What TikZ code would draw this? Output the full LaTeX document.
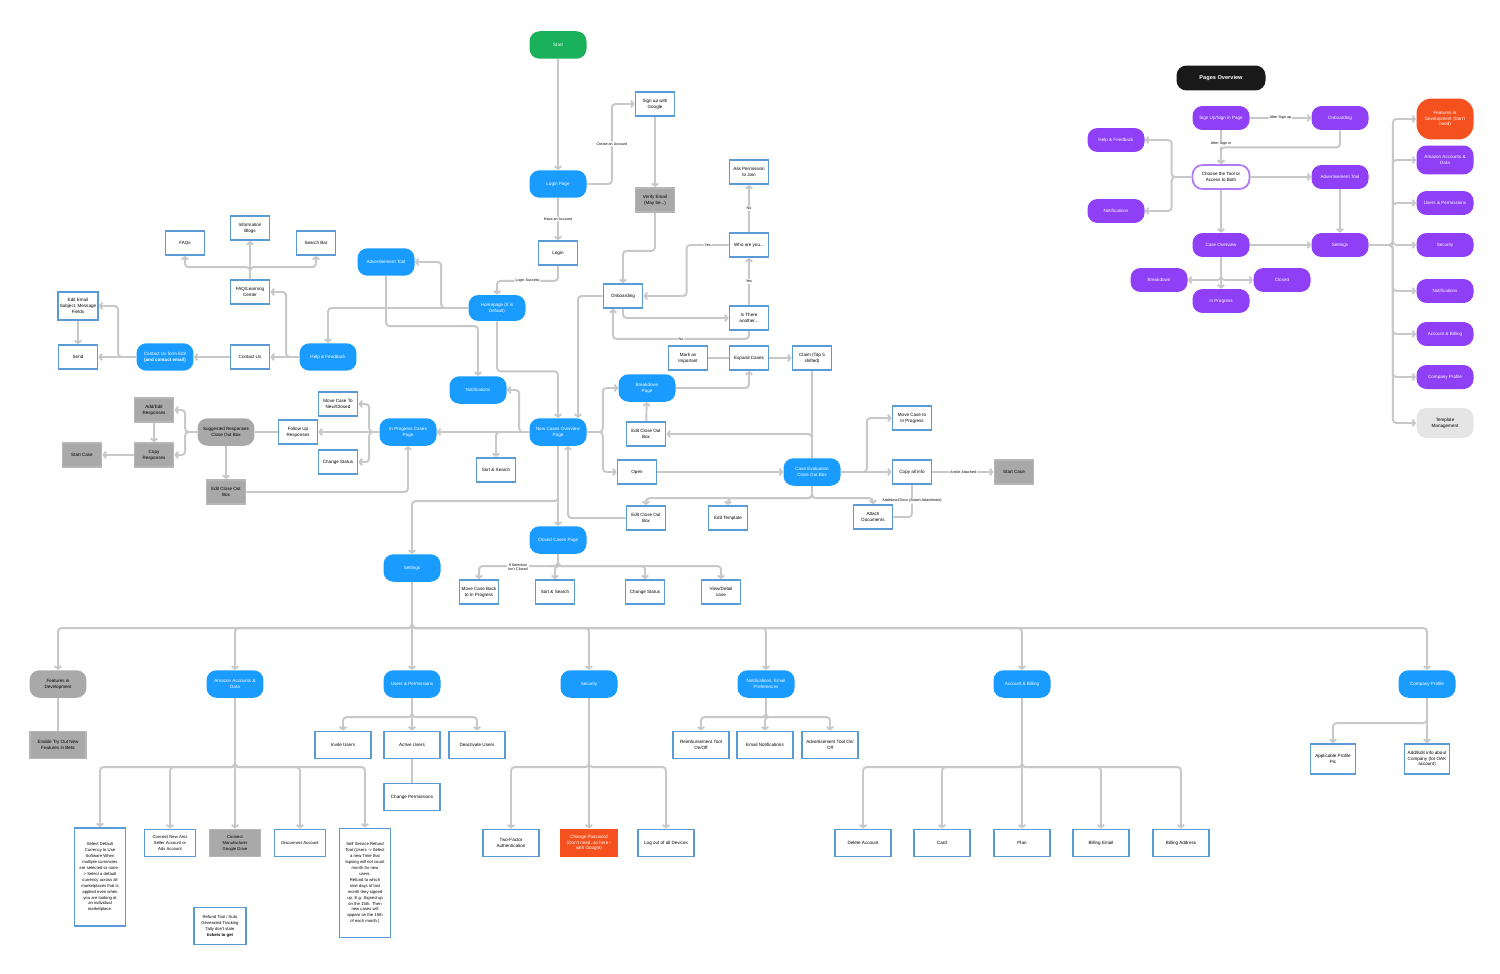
\documentclass[tikz,border=0pt]{standalone}
\usepackage{fontspec}
\setmainfont{Liberation Sans}
\usetikzlibrary{arrows.meta}
\definecolor{flowblue}{HTML}{1A9CFF}
\definecolor{boxblue}{HTML}{5B9BD5}
\definecolor{linegrey}{HTML}{C8C8C8}
\definecolor{greyfill}{HTML}{A9A9A9}
\definecolor{flowpurple}{HTML}{8F3FF5}
\definecolor{floworange}{HTML}{F4511E}
\definecolor{flowgreen}{HTML}{19B25A}

\begin{document}
\begin{tikzpicture}[
    x=0.02cm, y=-0.02cm,
    font=\fontsize{2.6}{3.3}\selectfont,
    pill/.style={fill=flowblue,text=white,rounded corners=0.2cm,align=center,
        minimum width=1.14cm,minimum height=0.55cm,inner sep=1pt},
    ppill/.style={pill,fill=flowpurple,minimum height=0.48cm},
    gpill/.style={pill,fill=greyfill,text=black},
    wbox/.style={draw=boxblue,line width=1pt,fill=white,align=center,
        minimum width=0.78cm,minimum height=0.48cm,inner sep=1pt},
    gbox/.style={wbox,draw=greyfill!80!black!60,fill=greyfill},
    wide/.style={minimum width=1.12cm,minimum height=0.54cm},
    longtext/.style={font=\fontsize{2.4}{3.4}\selectfont},
    conn/.style={draw=linegrey,line width=1.1pt,rounded corners=2pt,
        -{Straight Barb[length=0.5mm,width=1.3mm]}},
    link/.style={draw=linegrey,line width=1.1pt,rounded corners=2pt},
    lbl/.style={fill=white,inner sep=0.6pt,font=\fontsize{2.1}{2.5}\selectfont,align=center}
]
\path[use as bounding box,fill=white] (0,0) rectangle (1500,973);

% login and onboarding
\node[pill,fill=flowgreen] (start) at (558,45) {Start};
\node[pill] (loginpage) at (558,184) {Login Page};
\node[wbox] (signup) at (655,104) {Sign up with\\Google};
\node[gbox] (verify) at (655,200) {Verify Email\\(May be...)};
\node[wbox] (login) at (558,253) {Login};
\node[pill,minimum height=0.52cm] (homepage) at (497,308) {Homepage (It is\\Default)};
\node[wbox] (onboarding) at (623,296) {Onboarding};
\node[wbox] (askperm) at (749,172) {Ask Permission\\to Join};
\node[wbox] (whoareyou) at (749,245) {Who are you...};
\node[wbox] (isthere) at (749,318) {Is There\\another...};

\draw[conn] (start) -- (loginpage);
\draw[conn] (loginpage.east) -- ++(25,0) |- node[lbl,pos=0.25]{Create an Account} (signup.west);
\draw[conn] (loginpage) -- node[lbl]{Have an Account} (login);
\draw[conn] (signup) -- (verify);
\draw[conn] (verify.south) -- ++(0,38) -| (onboarding.north);
\draw[conn] (login.south) -- ++(0,15) -| node[lbl,pos=0.25]{Login Success} (homepage.north);
\draw[conn] (whoareyou) -- node[lbl]{No} (askperm);
\draw[conn] (isthere) -- node[lbl]{Yes} (whoareyou);
\draw[conn] (whoareyou.west) -- node[lbl]{Yes} ++(-42,0) |- (onboarding.east);
\draw[conn] (onboarding.south) |- (isthere.west);
\draw[conn] (isthere.south) -- ++(0,8) -| node[lbl,pos=0.25]{No} ([xshift=-0.2cm]onboarding.south);

% homepage branches
\node[pill] (advtool) at (386,262) {Advertisement Tool};
\node[pill] (notifications) at (478,390) {Notifications};
\node[pill] (newcases) at (558,432) {New Cases Overview\\Page};
\node[pill] (help) at (328,357) {Help \& Feedback};
\draw[conn] (onboarding.west) -| ([xshift=0.4cm]newcases.north);
\draw[conn] (homepage.south) -- ++(0,50) -| (newcases.north);
\draw[conn] (homepage.west) -- ++(-27,0) |- (advtool.east);
\draw[conn] (homepage.west) -| (help.north);
\draw[conn] (advtool.south) -- ++(0,50) -| (notifications.north);
\draw[conn] (newcases.west) -- ++(-10,0) |- (notifications.east);

% help and feedback
\node[wbox] (contactus) at (250,357) {Contact Us};
\node[wbox] (faq) at (250,292) {FAQ/Learning\\Center};
\node[wbox] (faqs) at (185,243) {FAQs};
\node[wbox] (blogs) at (250,228) {Information\\Blogs};
\node[wbox] (searchbar) at (316,243) {Search Bar};
\node[pill] (contactform) at (165,357) {Contact Us form Edit\\\textbf{(and contact email)}};
\node[wbox] (send) at (78,357) {Send};
\node[wbox,minimum height=0.56cm] (editemail) at (78,306) {Edit Email\\Subject, Message\\Fields};
\draw[conn] (help) -- (contactus);
\draw[conn] (help.west) -- ++(-13,0) |- (faq.east);
\draw[conn] (faq) -- (blogs);
\draw[conn] (faq.north) -- ++(0,-12) -| (faqs.south);
\draw[conn] (faq.north) -- ++(0,-12) -| (searchbar.south);
\draw[conn] (contactus) -- (contactform);
\draw[conn] (contactform) -- (send);
\draw[conn] (contactform.west) -- ++(-18,0) |- (editemail.east);
\draw[conn] (editemail) -- (send);

% in progress cases
\node[pill] (inprogress) at (408,432) {In Progress Cases\\Page};
\node[wbox] (movecase1) at (338,404) {Move Case To\\New/Closed};
\node[wbox] (followup) at (298,432) {Follow Up\\Responses};
\node[wbox] (changestatus1) at (338,462) {Change Status};
\node[gpill] (suggested) at (226,432) {Suggested Responses\\Close Out Box};
\node[gbox] (editclose1) at (226,492) {Edit Close Out\\Box};
\node[gbox] (addedit) at (154,410) {Add/Edit\\Responses};
\node[gbox] (copyresp) at (154,455) {Copy\\Responses};
\node[gbox] (startcase1) at (82,455) {Start Case};
\draw[conn] (newcases) -- (inprogress);
\draw[conn] (inprogress.west) -- ++(-10,0) |- (movecase1.east);
\draw[conn] (inprogress.west) -- ++(-10,0) |- (changestatus1.east);
\draw[conn] (inprogress) -- (followup);
\draw[link] (followup) -- (suggested);
\draw[conn] (suggested) -- (editclose1);
\draw[conn] (editclose1.east) -| (inprogress.south);
\draw[conn] (suggested.west) -- ++(-12,0) |- (addedit.east);
\draw[conn] (suggested.west) -- ++(-12,0) |- (copyresp.east);
\draw[conn] (addedit) -- (copyresp);
\draw[conn] (copyresp) -- (startcase1);

% new cases overview
\node[wbox] (sortsearch1) at (496,470) {Sort \& Search};
\node[pill] (breakdown) at (647,388) {Breakdown\\Page};
\node[wbox] (open) at (637,472) {Open};
\node[wbox] (expand) at (749,358) {Expand Cases};
\node[wbox] (important) at (688,358) {Mark as\\Important};
\node[wbox] (claim) at (812,358) {Claim (Top 5\\shifted)};
\node[pill] (closeout) at (812,472) {Case Evaluation\\Close Out Box};
\node[wbox] (editclose2) at (646,434) {Edit Close Out\\Box};
\node[wbox] (movecase2) at (912,418) {Move Case to\\In Progress};
\node[wbox] (copyall) at (912,472) {Copy all info};
\node[gbox] (startcase2) at (1014,472) {Start Case};
\node[wbox] (attach) at (873,517) {Attach\\Documents};
\node[wbox] (edittemplate) at (728,518) {Edit Template};
\node[wbox] (editclose3) at (646,518) {Edit Close Out\\Box};
\node[pill] (closedcases) at (558,540) {Closed Cases Page};
\node[pill] (settings) at (412,568) {Settings};
\draw[conn] (newcases.west) -| (sortsearch1.north);
\draw[conn] (newcases.east) -- ++(16,0) |- (breakdown.west);
\draw[conn] (newcases.east) -- ++(16,0) |- (open.west);
\draw[conn] (breakdown.east) -| (expand.south);
\draw[link] (expand) -- (important);
\draw[conn] (expand) -- (claim);
\draw[link] (claim) -- (closeout);
\draw[conn] (closeout.north) |- (editclose2.east);
\draw[conn] (editclose2) -- (breakdown);
\draw[conn] (open) -- (closeout);
\draw[conn] (closeout.east) -- ++(26,0) |- (movecase2.west);
\draw[conn] (closeout) -- (copyall);
\draw[conn] (copyall) -- node[lbl]{Article Attached} (startcase2);
\foreach \n in {attach,edittemplate,editclose3}
    \draw[conn] (closeout.south) -- ++(0,12) -| (\n.north);
\draw[link] (copyall.south) |- node[lbl,pos=0.25]{Additional Docs (Attach Attachment)} (attach.east);
\draw[conn] (editclose3.west) -| ([xshift=0.2cm]newcases.south);
\draw[conn] (newcases) -- (closedcases);
\draw[conn] (newcases.south) -- ++(0,55) -| (settings.north);

% closed cases
\node[wbox] (moveback) at (479,592) {Move Case Back\\to In Progress};
\node[wbox] (sortsearch2) at (555,592) {Sort \& Search};
\node[wbox] (changestatus2) at (645,592) {Change Status};
\node[wbox] (viewcase) at (721,592) {View/Detail\\case};
\foreach \n in {moveback,sortsearch2,changestatus2,viewcase}
    \draw[conn] (closedcases.south) -- ++(0,12) -| (\n.north);
\node[lbl] (ifselection) at (518,567) {If Selection\\Isn't Closed};

% settings
\node[gpill] (featdev) at (58,684) {Features in\\Development};
\node[pill] (amazon) at (235,684) {Amazon Accounts \&\\Data};
\node[pill] (users) at (412,684) {Users \& Permissions};
\node[pill] (security) at (589,684) {Security};
\node[pill] (notifset) at (766,684) {Notifications, Email\\Preferences};
\node[pill] (billing) at (1022,684) {Account \& Billing};
\node[pill] (company) at (1427,684) {Company Profile};
\foreach \n in {featdev,amazon,users,security,notifset,billing,company}
    \draw[conn] (settings.south) -- ++(0,46) -| (\n.north);

\node[gbox,wide] (enable) at (58,745) {Enable Try Out New\\Features in Beta};
\draw[link] (featdev) -- (enable);

\node[wbox,longtext,minimum width=1.02cm,minimum height=1.96cm] (currency) at (100,877)
    {Select Default\\Currency to Use\\Software When\\multiple currencies\\are selected or none -\\> Select a default\\currency across all\\marketplaces that is\\applied even when\\you are looking at\\an individual\\marketplace.};
\node[wbox,longtext,minimum width=1.02cm,minimum height=0.54cm] (connectamz) at (170,843) {Connect New Amz\\Seller Account or\\Ads Account};
\node[gbox,longtext,minimum width=1.02cm,minimum height=0.54cm] (connectdrive) at (235,843) {Connect\\Manufacturer\\Google Drive};
\node[wbox,longtext,minimum width=1.02cm,minimum height=0.54cm] (disconnect) at (300,843) {Disconnect Account};
\node[wbox,longtext,minimum width=1.02cm,minimum height=2.18cm] (refundtime) at (365,883)
    {Self Service Refund\\Tool (Users -> Select\\a new Time that\\lapsing will not count\\month for new\\users.\\Refund to which\\nine days of last\\month they signed\\up. E.g. Signed up\\on the 15th. Then\\new cases will\\appear on the 15th\\of each month.)};
\node[wbox,longtext,minimum width=1.04cm,minimum height=0.74cm] (refundtool) at (220,926)
    {Refund Tool / Auto\\Generated Tracking\\Tally don't state\\\textbf{tickets to get}};
\foreach \n in {currency,connectamz,connectdrive,disconnect,refundtime}
    \draw[conn] (amazon.south) -- ++(0,69) -| (\n.north);

\node[wbox,wide] (invite) at (343,745) {Invite Users};
\node[wbox,wide] (activeusers) at (412,745) {Active Users};
\node[wbox,wide] (deactivate) at (477,745) {Deactivate Users};
\node[wbox,wide] (changeperm) at (412,797) {Change Permissions};
\foreach \n in {invite,activeusers,deactivate}
    \draw[conn] (users.south) -- ++(0,19) -| (\n.north);
\draw[link] (activeusers) -- (changeperm);

\node[wbox,wide] (twofa) at (511,843) {Two-Factor\\Authentication};
\node[wbox,wide,draw=floworange,fill=floworange,text=white] (changepw) at (589,843)
    {Change Password\\(Don't need, as here -\\with Google)};
\node[wbox,wide] (logout) at (666,843) {Log out of all Devices};
\foreach \n in {twofa,changepw,logout}
    \draw[conn] (security.south) -- ++(0,69) -| (\n.north);

\node[wbox,wide] (reimb) at (701,745) {Reimbursement Tool\\On/Off};
\node[wbox,wide] (emailnotif) at (765,745) {Email Notifications};
\node[wbox,wide] (advonoff) at (830,745) {Advertisement Tool On/\\Off};
\foreach \n in {reimb,emailnotif,advonoff}
    \draw[conn] (notifset.south) -- ++(0,19) -| (\n.north);

\foreach \n/\x/\t in {delete/863/Delete Account,card/942/Card,plan/1022/Plan,
        billingemail/1101/Billing Email,billingaddr/1181/Billing Address} {
    \node[wbox,wide] (\n) at (\x,843) {\t};
    \draw[conn] (billing.south) -- ++(0,69) -| (\n.north);
}

\node[wbox,minimum width=0.9cm,minimum height=0.6cm] (profilepic) at (1333,759) {Applicable Profile\\Pic};
\node[wbox,minimum width=0.9cm,minimum height=0.6cm] (companyinfo) at (1427,759) {Add/Edit info about\\Company (for OAK\\account)};
\foreach \n in {profilepic,companyinfo}
    \draw[conn] (company.south) -- ++(0,25) -| (\n.north);

% pages overview
\node[pill,fill=black!90,minimum width=1.78cm,minimum height=0.5cm,font=\fontsize{3.2}{4}\selectfont\bfseries] (overview) at (1221,78) {Pages Overview};
\node[ppill] (signinp) at (1221,118) {Sign Up/Sign in Page};
\node[ppill] (onboardp) at (1340,118) {Onboarding};
\node[ppill] (helpp) at (1116,140) {Help \& Feedback};
\node[ppill] (notifp) at (1116,211) {Notifications};
\node[ppill,fill=white,text=black,draw=flowpurple!70,line width=1pt] (choose) at (1221,177) {Choose the Tool or\\Access to Both};
\node[ppill] (advp) at (1340,177) {Advertisement Tool};
\node[ppill] (caseover) at (1221,245) {Case Overview};
\node[ppill] (settingsp) at (1340,245) {Settings};
\node[ppill] (breakp) at (1159,280) {Breakdown};
\node[ppill] (closedp) at (1282,280) {Closed};
\node[ppill] (inprogp) at (1221,301) {In Progress};
\node[ppill,fill=floworange,minimum height=0.82cm,rounded corners=0.3cm] (featp) at (1445,119) {Features in\\Development (Don't\\need)};
\node[ppill,minimum height=0.58cm] (amazonp) at (1445,160) {Amazon Accounts \&\\Data};
\node[ppill] (usersp) at (1445,203) {Users \& Permissions};
\node[ppill] (securityp) at (1445,245) {Security};
\node[ppill] (notifsp) at (1445,291) {Notifications};
\node[ppill] (billingp) at (1445,334) {Account \& Billing};
\node[ppill] (companyp) at (1445,377) {Company Profile};
\node[ppill,fill=black!10,text=black,minimum height=0.6cm] (templatep) at (1445,423) {Template\\Management};

\draw[conn] (signinp) -- node[lbl]{After Sign up} (onboardp);
\draw[conn] (signinp) -- node[lbl,pos=0.4]{After Sign in} (choose);
\draw[conn] (onboardp.south) -- ++(0,17) -| (choose.north);
\draw[conn] (choose) -- (advp);
\draw[conn] (choose.west) -- ++(-20,0) |- (helpp.east);
\draw[conn] (choose.west) -- ++(-20,0) |- (notifp.east);
\draw[conn] (choose) -- (caseover);
\draw[conn] (advp) -- (settingsp);
\draw[conn] (caseover) -- (settingsp);
\draw[conn] (caseover) -- (inprogp);
\draw[conn] (caseover.south) |- (breakp.east);
\draw[conn] (caseover.south) |- (closedp.west);
\foreach \n in {featp,amazonp,usersp,securityp,notifsp,billingp,companyp,templatep}
    \draw[conn] (settingsp.east) -- ++(24,0) |- (\n.west);
\end{tikzpicture}
\end{document}
